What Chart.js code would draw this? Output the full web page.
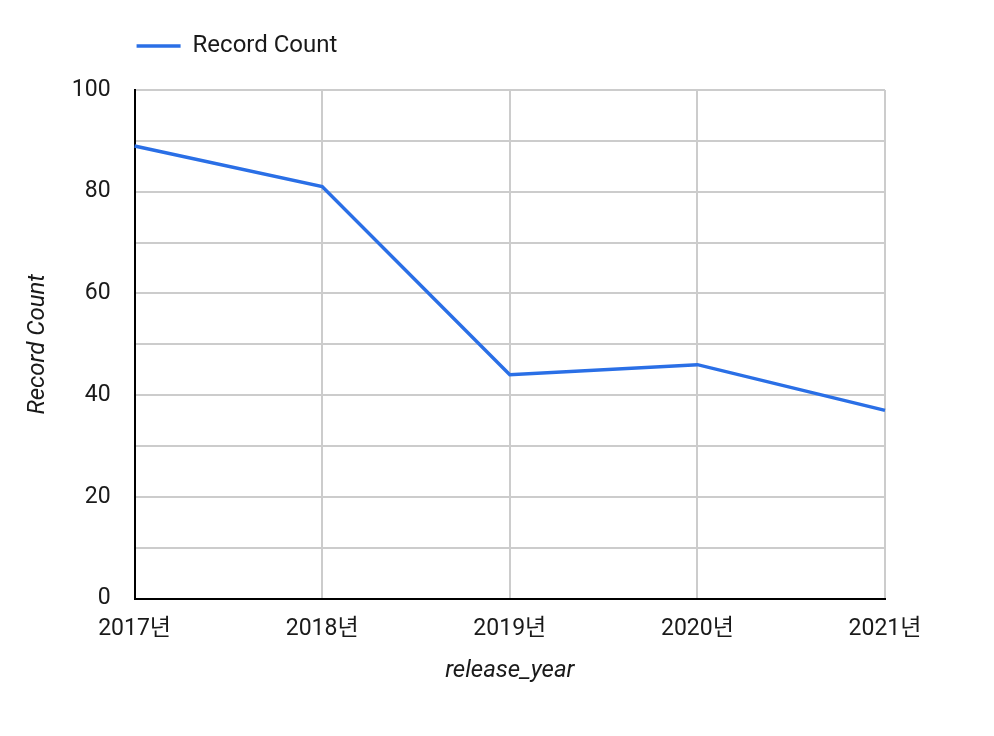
<!DOCTYPE html>
<html lang="ko">
  <head>
    <meta charset="UTF-8" />
    <title>Record Count by release_year</title>
    <script src="https://cdn.jsdelivr.net/npm/chart.js@4.4.0/dist/chart.umd.min.js"></script>
    <style>
      body {
        margin: 0;
        padding: 0;
        background-color: #fff;
      }
      #chart {
        display: block;
      }
    </style>
  </head>
  <body>
    <canvas id="chart" width="994" height="736"></canvas>

    <script>
      // Data
      const years = ["2017년", "2018년", "2019년", "2020년", "2021년"];
      const recordCounts = [89, 81, 44, 46, 37];
      const yTicks = [0, 20, 40, 60, 80, 100];

      const lineColor = "#2a6fe6";
      const gridColor = "#cccccc";

      // move the legend so it starts at the left edge of the plot, a bit higher up
      const legendToPlot = {
        id: "legendToPlot",
        afterLayout(chart) {
          const lg = chart.legend;
          const dx = chart.chartArea.left - 20 - lg.left;
          const dy = -22;
          lg.left += dx;
          lg.right += dx;
          lg.top += dy;
          lg.bottom += dy;
          lg.legendHitBoxes.forEach((b) => {
            b.left += dx;
            b.top += dy;
          });
        },
      };

      Chart.defaults.font.family = "Roboto, 'Noto Sans CJK KR', sans-serif";
      Chart.defaults.color = "#1a1a1a";

      new Chart(document.getElementById("chart"), {
        type: "line",
        data: {
          labels: years,
          datasets: [
            {
              label: "Record Count",
              data: recordCounts,
              borderColor: lineColor,
              backgroundColor: lineColor,
              borderWidth: 3.5,
              pointRadius: 0,
              tension: 0,
            },
          ],
        },
        options: {
          responsive: false,
          animation: false,
          layout: {
            padding: { left: 24, right: 109, top: 34, bottom: 51 },
          },
          plugins: {
            legend: {
              align: "start",
              labels: {
                usePointStyle: true,
                pointStyle: "line",
                pointStyleWidth: 44,
                boxHeight: 4,
                font: { size: 24 },
                padding: 22,
              },
            },
            tooltip: { enabled: false },
          },
          scales: {
            x: {
              offset: false,
              grid: { color: gridColor, lineWidth: 2, drawTicks: false },
              border: { color: "#000", width: 2 },
              ticks: { font: { size: 23 }, padding: 17, maxRotation: 0 },
              title: {
                display: true,
                text: "release_year",
                font: { size: 24, style: "italic" },
                padding: { top: -4, bottom: 0 },
              },
            },
            y: {
              min: 0,
              max: 100,
              grid: { color: gridColor, lineWidth: 2, drawTicks: false },
              border: { color: "#000", width: 2 },
              ticks: {
                stepSize: 10,
                font: { size: 23 },
                padding: 24,
                callback: (v) => (yTicks.includes(v) ? v : ""),
              },
              title: {
                display: true,
                text: "Record Count",
                font: { size: 24, style: "italic" },
                padding: { top: 0, bottom: -5 },
              },
            },
          },
        },
        plugins: [legendToPlot],
      });
    </script>
  </body>
</html>
